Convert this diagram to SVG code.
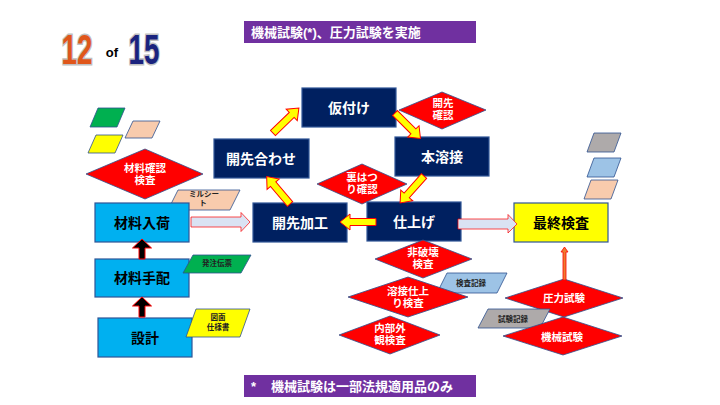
<svg xmlns="http://www.w3.org/2000/svg" xmlns:xlink="http://www.w3.org/1999/xlink" width="720" height="405" viewBox="0 0 720 405">
<style>
text{font-family:"Liberation Sans","Noto Sans CJK JP",sans-serif;font-weight:bold;text-anchor:middle}
.navy{fill:#002060;stroke:#2f5597;stroke-width:1.2}
.lb{fill:#00b0f0;stroke:#2f5597;stroke-width:1.2}
.dia{fill:#ff0000;stroke:#2f528f;stroke-width:0.8}
.pg{stroke:#2f528f;stroke-width:0.8}
.wt{fill:#fff;font-size:14px}
.bt{fill:#000;font-size:14px}
.dt{fill:#fff;font-size:10.5px}
.st{fill:#222;font-size:7.5px}
.bar{fill:#7030a0}
.ya{fill:#ffff00;stroke:#ff0000;stroke-width:1}
.ha{fill:#dae3f3;stroke:#ff0000;stroke-width:1;stroke-opacity:0.7}
.ba{fill:#000;stroke:#ff0000;stroke-width:1}
</style>
<defs>
<path id="ya" d="M0,-3.5 H26 V-8 L36,0 L26,8 V3.5 H0 Z"/>
</defs>
<rect width="720" height="405" fill="#fff"/>

<!-- header -->
<g id="pagenum">
<text x="0" y="64" transform="translate(77,0) scale(0.66,1)" font-size="42" fill="#e0561a" stroke="#c0c0c0" stroke-width="3" paint-order="stroke">12</text>
<text x="112" y="57" font-size="13" fill="#000">of</text>
<text x="0" y="64" transform="translate(144,0) scale(0.66,1)" font-size="42" fill="#1a237e" stroke="#c0c0c0" stroke-width="3" paint-order="stroke">15</text>
</g>
<g id="title">
<rect class="bar" x="244" y="21" width="232" height="22"/>
<text x="251" y="37" style="text-anchor:start" font-size="13" fill="#fff">機械試験(*)、圧力試験を実施</text>
</g>
<g id="note">
<rect class="bar" x="244" y="375" width="232" height="22"/>
<text x="251" y="391" style="text-anchor:start" font-size="13" fill="#fff">*</text>
<text x="271" y="391" style="text-anchor:start" font-size="13" fill="#fff">機械試験は一部法規適用品のみ</text>
</g>

<!-- legend parallelograms -->
<g id="legend-left">
<polygon class="pg" fill="#00b050" points="98,108 125,108 117,127 90,127"/>
<polygon class="pg" fill="#f8cbad" points="133,121 160,121 152,138 125,138"/>
<polygon class="pg" fill="#ffff00" points="96,135 123,135 115,153 88,153"/>
</g>
<g id="legend-right">
<polygon class="pg" fill="#aeaaaa" points="594,133 621,133 614,152 587,152"/>
<polygon class="pg" fill="#9dc3e6" points="594,158 621,158 614,177 587,177"/>
<polygon class="pg" fill="#f8cbad" points="591,180 618,180 611,199 584,199"/>
</g>

<!-- left column -->
<g id="zairyo-kakunin">
<polygon class="dia" points="86,174 145,149 203,174 145,199"/>
<text class="dt" x="145" y="172">材料確認</text>
<text class="dt" x="145" y="184">検査</text>
</g>
<g id="millsheet">
<polygon class="pg" fill="#f8cbad" points="178,190 240,190 230,210 168,210"/>
<text class="st" x="204" y="197" font-size="7">ミルシー</text>
<text class="st" x="203" y="206" font-size="7">ト</text>
</g>
<g id="zairyo-nyuka">
<rect class="lb" x="95" y="203" width="94" height="39"/>
<text class="bt" x="142" y="228">材料入荷</text>
</g>
<g id="zairyo-tehai">
<rect class="lb" x="95" y="259" width="94" height="38"/>
<text class="bt" x="142" y="283">材料手配</text>
</g>
<g id="hacchu">
<polygon class="pg" fill="#00b050" points="193,255 251,255 241,273 183,273"/>
<text class="st" x="217" y="266">発注伝票</text>
</g>
<g id="sekkei">
<rect class="lb" x="98" y="318" width="94" height="39"/>
<text class="bt" x="145" y="343">設計</text>
</g>
<g id="zumen">
<polygon class="pg" fill="#ffff00" points="196,309 250,309 240,337 186,337"/>
<text class="st" x="218" y="320">図面</text>
<text class="st" x="218" y="330">仕様書</text>
</g>

<!-- center cycle -->
<g id="karitsuke">
<rect class="navy" x="302" y="88" width="94" height="39"/>
<text class="wt" x="349" y="113">仮付け</text>
</g>
<g id="kaisaki-kakunin">
<polygon class="dia" points="399,110 442,92 486,110 442,129"/>
<text class="dt" x="443" y="107">開先</text>
<text class="dt" x="443" y="119">確認</text>
</g>
<g id="honyosetsu">
<rect class="navy" x="395" y="137" width="94" height="39"/>
<text class="wt" x="442" y="162">本溶接</text>
</g>
<g id="kaisaki-awase">
<rect class="navy" x="214" y="139" width="95" height="39"/>
<text class="wt" x="261" y="164">開先合わせ</text>
</g>
<g id="urahatsuri">
<polygon class="dia" points="317,184 362,164 407,184 362,204"/>
<text class="dt" x="362" y="181">裏はつ</text>
<text class="dt" x="362" y="193">り確認</text>
</g>
<g id="kaisaki-kako">
<rect class="navy" x="253" y="203" width="94" height="39"/>
<text class="wt" x="300" y="228">開先加工</text>
</g>
<g id="shiage">
<rect class="navy" x="367" y="202" width="94" height="39"/>
<text class="wt" x="414" y="227">仕上げ</text>
</g>

<!-- inspections -->
<g id="hihakai">
<polygon class="dia" points="375,259 423,240 472,259 423,278"/>
<text class="dt" x="423" y="256">非破壊</text>
<text class="dt" x="423" y="268">検査</text>
</g>
<g id="kensa-kiroku">
<polygon class="pg" fill="#9dc3e6" points="447,273 507,273 497,293 437,293"/>
<text class="st" x="471" y="286">検査記録</text>
</g>
<g id="yosetsu-shiage">
<polygon class="dia" points="348,297 408,277 468,297 408,317"/>
<text class="dt" x="408" y="295">溶接仕上</text>
<text class="dt" x="408" y="307">り検査</text>
</g>
<g id="naibu-gaikan">
<polygon class="dia" points="339,335 390,316 440,335 390,354"/>
<text class="dt" x="390" y="332">内部外</text>
<text class="dt" x="390" y="344">観検査</text>
</g>

<!-- right -->
<g id="saishu">
<rect x="514" y="203" width="94" height="39" fill="#ffff00" stroke="#2f5597" stroke-width="1.2"/>
<text class="bt" x="561" y="228">最終検査</text>
</g>
<g id="atsuryoku">
<polygon class="dia" points="505,298 564,279 623,298 564,317"/>
<text class="dt" x="564" y="302">圧力試験</text>
</g>
<g id="shiken-kiroku">
<polygon class="pg" fill="#aeaaaa" points="488,309 550,309 540,328 478,328"/>
<text class="st" x="513" y="322">試験記録</text>
</g>
<g id="kikai">
<polygon class="dia" points="503,336 563,317 622,336 563,355"/>
<text class="dt" x="562" y="341">機械試験</text>
</g>

<!-- connectors -->
<g id="connectors">
<path class="ha" d="M191,217 H241 V212.5 L250,222 L241,231.5 V227 H191 Z"/>
<path class="ha" d="M458,219 H508 V214.5 L517,224 L508,233 V229 H458 Z"/>
<path class="ba" d="M139,259 V248 H132.5 L142,239 L151.5,248 H145 V259 Z"/>
<path class="ba" d="M139,317 V306 H132.5 L142,297 L151.5,306 H145 V317 Z"/>
<path d="M563,280 V252 H561 L564.5,247 L568,252 H566 V280 Z" fill="#ed7d31" stroke="#ff0000" stroke-width="0.8"/>
<use href="#ya" class="ya" transform="translate(273,133) rotate(-44)"/>
<use href="#ya" class="ya" transform="translate(395,113) rotate(45)"/>
<use href="#ya" class="ya" transform="translate(424,176) rotate(131.6)"/>
<use href="#ya" class="ya" transform="translate(376,222) rotate(180)"/>
<use href="#ya" class="ya" transform="translate(290,204) rotate(-130.4)"/>
</g>
</svg>
